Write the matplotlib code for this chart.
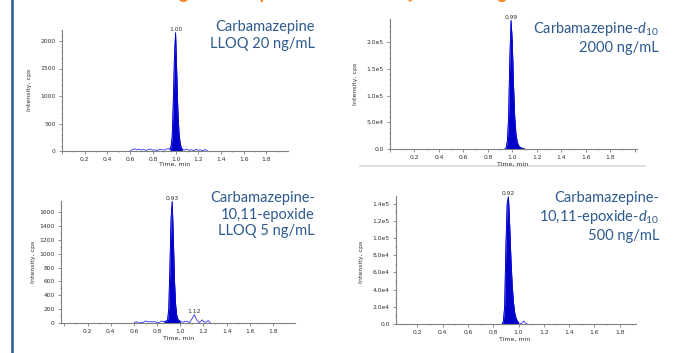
import numpy as np
import matplotlib
matplotlib.use("Agg")
from matplotlib import pyplot as plt
from matplotlib.ticker import MultipleLocator, FuncFormatter

plt.rcParams['font.family'] = ['DejaVu Sans']
plt.rcParams['mathtext.fontset'] = 'custom'
plt.rcParams['mathtext.rm'] = 'Lato'
plt.rcParams['mathtext.it'] = 'Lato:italic'

# --- chromatogram data (time in min, intensity in cps) ---
# Carbamazepine, LLOQ 20 ng/mL
cbz_t = [0.60, 0.62, 0.64, 0.66, 0.68, 0.70, 0.72, 0.74, 0.76, 0.78, 0.80, 0.82, 0.84, 0.86, 0.88, 0.90, 0.92, 0.94,
         0.95, 0.96, 0.97, 0.98, 0.99, 1.00, 1.01, 1.02, 1.03, 1.04, 1.05, 1.06,
         1.08, 1.10, 1.12, 1.14, 1.16, 1.18, 1.20, 1.22, 1.24, 1.26, 1.28]
cbz_y = [0, 25, 40, 20, 35, 15, 30, 10, 25, 35, 15, 20, 10, 30, 25, 15, 35, 45,
         30, 80, 250, 900, 1700, 2150, 1450, 750, 330, 140, 60, 30,
         20, 35, 10, 25, 5, 30, 15, 20, 5, 30, 0]
cbz_peak = (0.95, 1.06)

# Carbamazepine-d10, 2000 ng/mL
cbzd_t = [0.94, 0.95, 0.96, 0.97, 0.98, 0.99, 1.00, 1.01, 1.02, 1.03, 1.04, 1.05, 1.06, 1.07, 1.08, 1.09, 1.10]
cbzd_y = [0, 2000, 15000, 60000, 170000, 240000, 200000, 120000, 60000, 28000, 14000, 7000, 4000, 2500, 1500, 800, 0]
cbzd_peak = (0.94, 1.10)

# Carbamazepine-10,11-epoxide, LLOQ 5 ng/mL
epx_t = [0.60, 0.62, 0.64, 0.66, 0.68, 0.70, 0.72, 0.74, 0.76, 0.78, 0.80, 0.82, 0.84, 0.86,
         0.87, 0.88, 0.89, 0.90, 0.91, 0.92, 0.93, 0.94, 0.95, 0.96, 0.97, 0.98, 0.99, 1.00,
         1.02, 1.04, 1.06, 1.08, 1.10, 1.12, 1.14, 1.16, 1.18, 1.19, 1.20, 1.22, 1.24, 1.26]
epx_y = [0, 20, 0, 5, 10, 30, 15, 20, 15, 20, 5, 10, 30, 15,
         25, 30, 40, 200, 800, 1500, 1750, 1200, 600, 250, 100, 50, 35, 25,
         10, 25, 20, 5, 60, 120, 50, 5, 30, 45, 20, 10, 35, 0]
epx_peak = (0.86, 1.00)

# Carbamazepine-10,11-epoxide-d10, 500 ng/mL
epxd_t = [0.87, 0.88, 0.89, 0.90, 0.91, 0.92, 0.93, 0.94, 0.95, 0.96, 0.97, 0.98, 0.99, 1.00,
          1.02, 1.03, 1.04, 1.05, 1.06, 1.07]
epxd_y = [0, 3000, 20000, 90000, 140000, 148000, 115000, 75000, 45000, 25000, 13000, 7000, 3500, 1500,
          500, 1500, 3500, 2000, 500, 0]
epxd_peak = (0.87, 1.00)

W, H = 674, 353
fig = plt.figure(figsize=(W / 100, H / 100), dpi=100)


def px_axes(left, right, top, bottom):
    return fig.add_axes([left / W, 1 - bottom / H, (right - left) / W, (bottom - top) / H])


def sci_fmt(v, pos):
    if v == 0:
        return "0.0"
    m, e = f"{v:.1e}".split("e")
    return f"{m}e{int(e)}"


def draw_panel(ax, t, y, peak, xlim, ylim, ymajor, yminor, sci, labels):
    t = np.array(t)
    y = np.array(y)
    ax.plot(t, y, color='#3535ff', lw=0.6)
    mask = (t >= peak[0]) & (t <= peak[1])
    ax.fill_between(t, 0, y, where=mask, color='#0000c8', lw=0)
    ax.plot(t[mask], y[mask], color='#0000c8', lw=0.6)
    for lx, ly, txt in labels:
        ax.text(lx, ly, txt, fontsize=4.3, ha='center', va='bottom', color='#303030')
    ax.set_xlim(xlim)
    ax.set_ylim(ylim)
    ax.xaxis.set_major_locator(MultipleLocator(0.2))
    ax.xaxis.set_minor_locator(MultipleLocator(0.1))
    ax.xaxis.set_major_formatter(FuncFormatter(lambda v, p: f"{v:.1f}" if 0.1 < v < 1.9 else ""))
    ax.yaxis.set_major_locator(MultipleLocator(ymajor))
    ax.yaxis.set_minor_locator(MultipleLocator(yminor))
    if sci:
        ax.yaxis.set_major_formatter(FuncFormatter(sci_fmt))
    else:
        ax.yaxis.set_major_formatter(FuncFormatter(lambda v, p: f"{v:.0f}"))
    for s in ['top', 'right']:
        ax.spines[s].set_visible(False)
    for s in ['left', 'bottom']:
        ax.spines[s].set_color('#808080')
        ax.spines[s].set_linewidth(0.8)
    ax.tick_params(which='major', length=2, width=0.5, color='#606060', labelsize=4.3,
                   labelcolor='#303030', pad=2.5)
    ax.tick_params(which='minor', length=1, width=0.4, color='#606060')


title_kw = dict(fontsize=10.5, color='#2e5a8e', ha='right', va='top', family='Lato',
                multialignment='right', linespacing=1.25)
small_kw = dict(fontsize=4.5, color='#303030', ha='center', va='center')


def ftext(x, y, s, **kw):
    fig.text(x / W, 1 - y / H, s, **kw)


# top-left
ax1 = px_axes(62, 288, 30, 151)
draw_panel(ax1, cbz_t, cbz_y, cbz_peak, (0.0, 1.99), (0, 2200), 500, 100, False, [(1.00, 2170, "1.00")])
ftext(315, 20, "Carbamazepine\nLLOQ 20 ng/mL", **title_kw)
ftext(29, 90, "Intensity, cps", rotation=90, **small_kw)
ftext(175, 164, "Time, min", **small_kw)

# top-right
ax2 = px_axes(390, 637, 19, 149)
draw_panel(ax2, cbzd_t, cbzd_y, cbzd_peak, (0.0, 2.02), (0, 243000), 50000, 10000, True, [(0.99, 242000, "0.99")])
ftext(659, 20, "Carbamazepine-$\\mathit{d}_{10}$\n2000 ng/mL", **title_kw)
ftext(355, 84, "Intensity, cps", rotation=90, **small_kw)
ftext(513, 164, "Time, min", **small_kw)

# bottom-left
ax3 = px_axes(61, 295, 201, 323)
draw_panel(ax3, epx_t, epx_y, epx_peak, (-0.03, 1.99), (0, 1760), 200, 100, False,
           [(0.93, 1760, "0.93"), (1.12, 125, "1.12")])
ftext(315, 191, "Carbamazepine-\n10,11-epoxide\nLLOQ 5 ng/mL", **title_kw)
ftext(33, 262, "Intensity, cps", rotation=90, **small_kw)
ftext(179, 338, "Time, min", **small_kw)

# bottom-right
ax4 = px_axes(396, 636, 196, 324)
draw_panel(ax4, epxd_t, epxd_y, epxd_peak, (0.03, 1.93), (0, 149000), 20000, 10000, True, [(0.92, 149000, "0.92")])
ftext(659, 191, "Carbamazepine-\n10,11-epoxide-$\\mathit{d}_{10}$\n500 ng/mL", **title_kw)
ftext(361, 262, "Intensity, cps", rotation=90, **small_kw)
ftext(515, 339, "Time, min", **small_kw)

# page decorations: left rule, grey separator, caption cut by the top edge
fig.add_artist(plt.Line2D([12.5 / W, 12.5 / W], [0, 1], color='#2f5597', lw=1.8))
fig.add_artist(plt.Line2D([360 / W, 645 / W], [1 - 166 / H, 1 - 166 / H], color='#d9d9d9', lw=1.2))
ftext(355, -1.5, "Figure 2. Representative LLOQ Chromatograms", fontsize=13, color='#f58220',
      fontweight='bold', ha='center', va='baseline', family='Lato')

fig.savefig("out.png", dpi=100)
